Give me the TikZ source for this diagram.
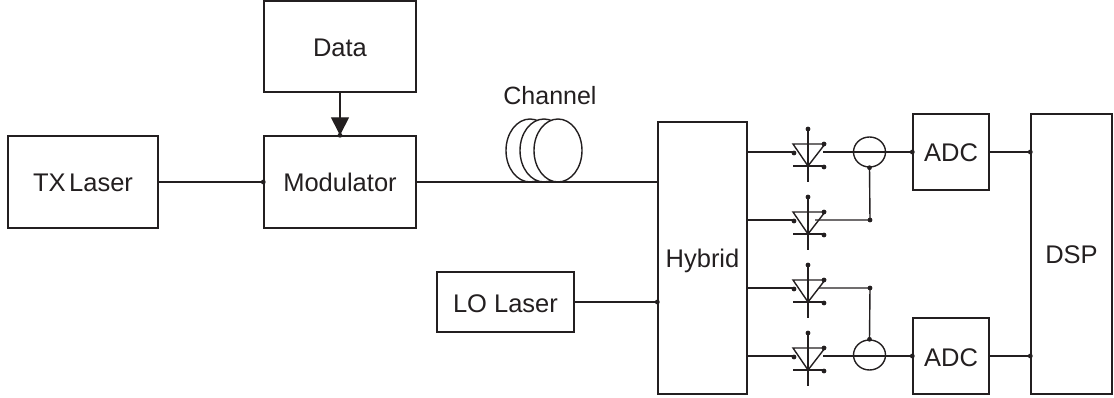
\documentclass[tikz,border=0pt]{standalone}
\usepackage{fontspec}
\setmainfont{Liberation Sans}
\usetikzlibrary{arrows.meta,shapes.geometric}
\definecolor{ink}{HTML}{231F20}
\tikzset{
  block/.style={draw=ink,line width=1.4pt,inner sep=0pt,text=ink,text height=20pt,text depth=0pt,font=\fontsize{25.5}{30}\selectfont},
  wire/.style={draw=ink,line width=1.4pt},
  coil/.style={ellipse,draw=ink,fill=white,line width=1.4pt,inner sep=0pt,minimum width=48pt,minimum height=63pt},
  mixer/.style={ellipse,draw=ink,line width=1.4pt,inner sep=0pt,minimum width=32pt,minimum height=30pt},
  tag/.style={inner sep=0pt,text=ink,font=\fontsize{25}{30}\selectfont}
}
\newcommand{\wdot}[1]{\fill[ink] (#1) circle (2.4pt);}
\begin{document}
\begin{tikzpicture}[x=1pt,y=-1pt]
\useasboundingbox (0,0) rectangle (1114,398);
\node[block,minimum width=152pt,minimum height=91pt] (data) at (340,46.5) {Data};
\node[block,minimum width=152pt,minimum height=92pt] (mod) at (340,182) {Modulator};
\node[block,minimum width=150pt,minimum height=92pt] (tx) at (83,182) {\spaceskip=3.5pt TX Laser};
\node[block,minimum width=137pt,minimum height=60pt] (lo) at (505.5,302) {LO Laser};
\node[block,minimum width=89pt,minimum height=272pt] (hybrid) at (702.5,258) {Hybrid};
\node[block,minimum width=76pt,minimum height=76pt] (adca) at (951,152) {ADC};
\node[block,minimum width=76pt,minimum height=76pt] (adcb) at (951,356) {ADC};
\node[block,minimum width=81pt,minimum height=280pt] (dsp) at (1071.5,254) {DSP};
\node[tag] (chan) at (550,96) {Channel};
% fibre coil
\foreach \x in {530,544,558}
\node[coil] (coil\x) at (\x,150.5) {};
% laser and modulator paths
\draw[wire] (tx.east) -- (mod.west);
\draw[wire] (mod.east) -- (mod.east -| hybrid.west);
\draw[wire] (lo.east) -- (lo.east -| hybrid.west);
\draw[wire,-{Triangle[width=18pt,length=18pt]}] (data.south) -- (mod.north);
\wdot{mod.west}
\wdot{mod.north}
\wdot{lo.east -| hybrid.west}
% photodiodes
\foreach \n/\y/\s in {a/152/823,b/220/815,c/288/819,d/356/823} {
\coordinate (in\n) at (793,\y);
\coordinate (out\n) at (\s,\y);
\draw[wire] (793,\y-8) -- (825,\y-8) -- (808,\y+14) -- cycle;
\draw[wire] (808,\y-23) -- (808,\y+30);
\draw[wire] (793,\y+14) -- (825,\y+14);
\draw[wire] (hybrid.east |- in\n) -- (in\n);
\wdot{808,\y-23}
\wdot{794,\y+1}
\wdot{824,\y-8}
\wdot{824,\y+15}
}
% balanced pairs
\node[mixer] (mixa) at (869.5,152) {};
\node[mixer] (mixb) at (869.5,355) {};
\coordinate (joina) at (870,220);
\coordinate (joinb) at (870,288);
\draw[wire] (outa) -- (adca.west);
\draw[wire] (outd) -- (adcb.west);
\draw[wire] (outb) -- (joina) -- (mixa.south);
\draw[wire] (outc) -- (joinb) -- (mixb.north);
\wdot{joina}
\wdot{joinb}
\wdot{mixa.south}
\wdot{mixb.north}
\wdot{adca.west}
\wdot{adcb.west}
% to the processor
\draw[wire] (adca.east) -- (adca.east -| dsp.west);
\draw[wire] (adcb.east) -- (adcb.east -| dsp.west);
\wdot{adca.east -| dsp.west}
\wdot{adcb.east -| dsp.west}
\end{tikzpicture}
\end{document}
